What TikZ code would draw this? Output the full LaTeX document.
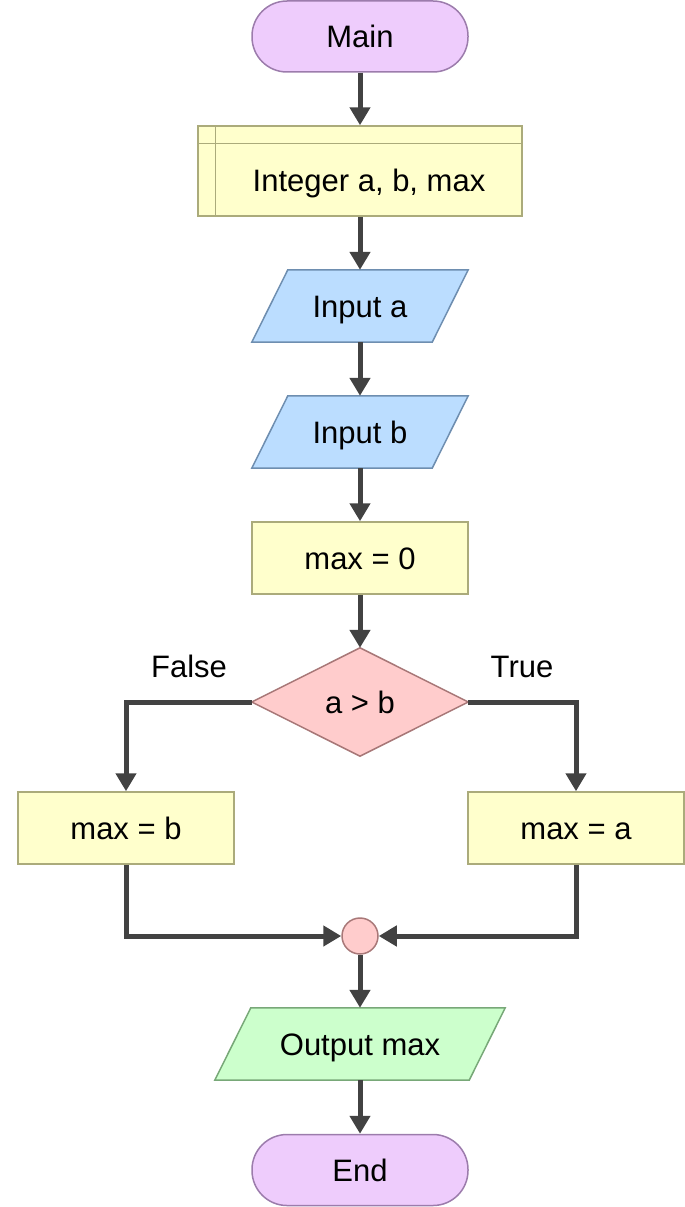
\documentclass[tikz,border=0pt]{standalone}
\usepackage{fontspec}
\setmainfont{Liberation Sans}
\usetikzlibrary{arrows.meta,backgrounds}

\definecolor{termfill}{HTML}{EECCFC}
\definecolor{termline}{HTML}{9C7CAC}
\definecolor{declfill}{HTML}{FFFFCC}
\definecolor{declline}{HTML}{ABAB7B}
\definecolor{infill}{HTML}{BBDDFF}
\definecolor{inline}{HTML}{6E8EB0}
\definecolor{decfill}{HTML}{FFCCCC}
\definecolor{decline}{HTML}{A87878}
\definecolor{outfill}{HTML}{CCFFCC}
\definecolor{outline}{HTML}{78A878}
\definecolor{flowline}{HTML}{424242}

\tikzset{
  % cap height of the 31pt face, so capitals sit centred on the node
  every node/.style={font=\fontsize{31}{37}\selectfont, inner sep=0pt,
    text height=22.2pt, text depth=0pt},
  term/.style={draw=termline, fill=termfill, line width=1.5pt, rounded corners=35pt,
    minimum width=216pt, minimum height=71pt},
  procbox/.style={draw=declline, fill=declfill, line width=1.5pt,
    minimum width=216pt, minimum height=72pt},
  iobox/.style={minimum width=#1, minimum height=72pt},
  decision/.style={draw=decline, fill=decfill, line width=1.5pt},
  joint/.style={circle, draw=decline, fill=decfill, line width=1.5pt, minimum size=36pt},
  flow/.style={draw=flowline, line width=5pt, -{Triangle[length=18pt,width=20pt]}},
  branchlabel/.style={anchor=center}
}

\begin{document}
\begin{tikzpicture}[x=1pt, y=-1pt]
\useasboundingbox (0,0) rectangle (685,1207);

% start terminal
\node[term] (main) at (360,36.5) {Main};

% declaration block with its inner guide lines
\node[procbox, minimum width=324pt, minimum height=90pt] (decl) at (360,171) {};
\draw[declline, line width=1.5pt] ([xshift=18pt]decl.north west) -- ([xshift=18pt]decl.south west);
\draw[declline, line width=1.5pt] ([yshift=-18pt]decl.north west) -- ([yshift=-18pt]decl.north east);
\node (decltext) at (369,180) {Integer a, b, max};

% input blocks
\node[iobox=216pt] (ina) at (360,306) {Input a};
\node[iobox=216pt] (inb) at (360,432) {Input b};

% assignment
\node[procbox] (init) at (360,558) {max = 0};

% decision
\node[minimum width=216pt, minimum height=108pt] (cond) at (360,702) {a > b};

\node[procbox] (setb) at (126,828) {max = b};
\node[procbox] (seta) at (576,828) {max = a};

\node[joint] (merge) at (360,936) {};

\node[iobox=290pt] (outm) at (360,1044) {Output max};

\node[term] (finish) at (360,1170) {End};

% parallelogram and diamond outlines behind their text
\begin{scope}[on background layer]
  \foreach \n/\f/\l in {ina/infill/inline, inb/infill/inline, outm/outfill/outline}{
    \draw[draw=\l, fill=\f, line width=1.5pt]
      (\n.south west) -- ([xshift=36pt]\n.north west) -- (\n.north east)
      -- ([xshift=-36pt]\n.south east) -- cycle;
  }
  \draw[decision] (cond.west) -- (cond.north) -- (cond.east) -- (cond.south) -- cycle;
\end{scope}

% branch labels
\node[branchlabel] (lblfalse) at (189,666) {False};
\node[branchlabel] (lbltrue) at (522,666) {True};

% connectors
\draw[flow] (main) -- (decl);
\draw[flow] (decl) -- (ina);
\draw[flow] (ina) -- (inb);
\draw[flow] (inb) -- (init);
\draw[flow] (init) -- (cond);
\draw[flow] (cond.west) -| (setb.north);
\draw[flow] (cond.east) -| (seta.north);
\draw[flow] (setb.south) |- (merge.west);
\draw[flow] (seta.south) |- (merge.east);
\draw[flow] (merge) -- (outm);
\draw[flow] (outm) -- (finish);
\end{tikzpicture}
\end{document}
